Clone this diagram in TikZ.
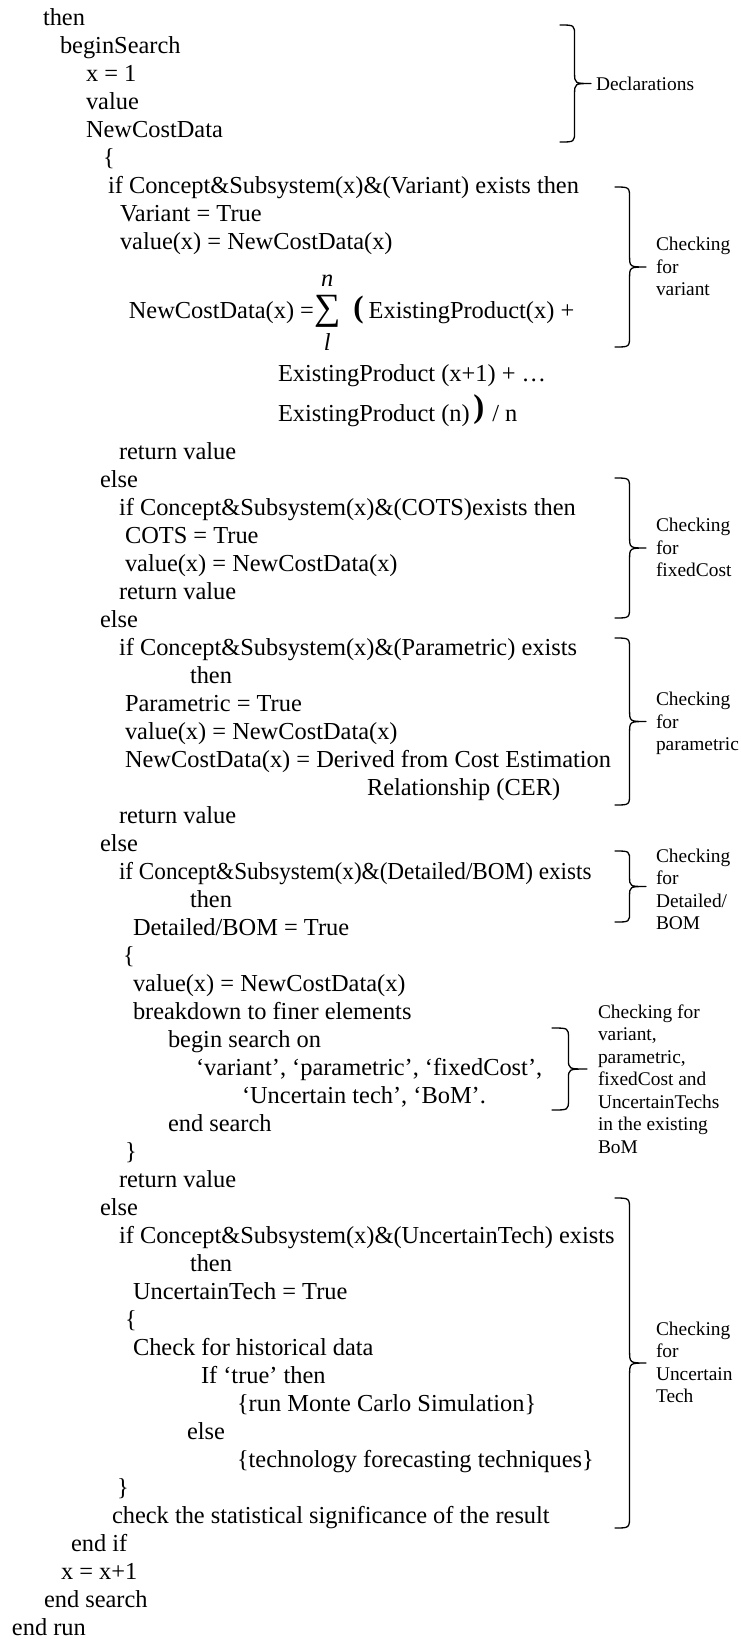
\documentclass[tikz,border=0pt]{standalone}
\usepackage{fontspec}
\setmainfont{Liberation Serif}
\begin{document}
\begin{tikzpicture}[x=1pt,y=-1pt,
  code/.style={anchor=base west, inner sep=0pt, outer sep=0pt, font=\fontsize{24.4}{28}\selectfont},
  note/.style={anchor=base west, inner sep=0pt, outer sep=0pt, font=\fontsize{19.4}{22.5}\selectfont},
  glyph/.style={anchor=center, inner sep=0pt, outer sep=0pt},
  bracepen/.style={line width=1.3pt, line cap=round, line join=round}]
\useasboundingbox (0,0) rectangle (740,1639);

% right brace: left x, top y, bottom y, width, curl size
\newcommand\codebrace[5]{%
  \coordinate (bt) at (#1,#2);
  \coordinate (bb) at (#1,#3);
  \coordinate (bm) at ({#1+#4},{(#2+#3)/2});
  \draw[bracepen] (bt) .. controls ({#1+0.47*#4},#2) .. ({#1+0.47*#4},{#2+#5})
    -- ({#1+0.47*#4},{(#2+#3)/2-#5})
    .. controls ({#1+0.47*#4},{(#2+#3)/2}) .. (bm)
    .. controls ({#1+0.47*#4},{(#2+#3)/2}) .. ({#1+0.47*#4},{(#2+#3)/2+#5})
    -- ({#1+0.47*#4},{#3-#5})
    .. controls ({#1+0.47*#4},#3) .. (bb);}

% ---- pseudo-code ----
\node[code] (c02) at (43,25) {then};
\node[code] (c03) at (60,53) {beginSearch};
\node[code] (c04) at (86,81) {x = 1};
\node[code] (c05) at (86,109) {value};
\node[code] (c06) at (86,137) {NewCostData};
\node[code] (c07) at (103,165) {\{};
\node[code] (c08) at (108,193) {if Concept\&Subsystem(x)\&(Variant) exists then};
\node[code] (c09) at (120,221) {Variant = True};
\node[code] (c10) at (120,249) {value(x) = NewCostData(x)};

% summation formula
\node[code, anchor=base east] (lhs) at (314,318) {NewCostData(x) =};
\node[glyph, anchor=west, font=\fontsize{37}{37}\selectfont] (sig) at (314,311.5) {∑};
\node[glyph, font=\fontsize{24.4}{28}\selectfont\itshape] (supn) at (sig.center |- 0,281) {n};
\node[glyph, font=\fontsize{24.4}{28}\selectfont\itshape] (subl) at (sig.center |- 0,342) {l};
\node[glyph, anchor=west, font=\fontsize{31}{31}\selectfont\bfseries] (lpar) at ([xshift=13pt]sig.east |- 0,310.5) {(};
\node[code] (t1) at ([xshift=5pt]lpar.east |- lhs.base) {ExistingProduct(x) +};
\node[code] (t2) at (278,381) {ExistingProduct (x+1) + …};
\node[code] (t3) at (278,421) {ExistingProduct (n)};
\path (t3.base east) ++(9,-11.5) node[glyph, font=\fontsize{33}{33}\selectfont\bfseries] (rpar) {)};
\node[code] (divn) at ([xshift=8pt]rpar.east |- t3.base) {/ n};

\node[code] (c16) at (119,459.5) {return value};
\node[code] (c17) at (100,487.5) {else};
\node[code] (c18) at (119,515.5) {if Concept\&Subsystem(x)\&(COTS)exists then};
\node[code] (c19) at (125,543.5) {COTS = True};
\node[code] (c20) at (125,571.5) {value(x) = NewCostData(x)};
\node[code] (c21) at (119,599.5) {return value};
\node[code] (c22) at (100,627.5) {else};
\node[code] (c23) at (119,655.5) {if Concept\&Subsystem(x)\&(Parametric) exists};
\node[code] (c24) at (190,683.5) {then};
\node[code] (c25) at (125,711.5) {Parametric = True};
\node[code] (c26) at (125,739.5) {value(x) = NewCostData(x)};
\node[code] (c27) at (125,767.5) {NewCostData(x) = Derived from Cost Estimation};
\node[code] (c28) at (367,795.5) {Relationship (CER)};
\node[code] (c29) at (119,823.5) {return value};
\node[code] (c30) at (100,851.5) {else};
\node[code] (c31) at (119,879.5) {\scalebox{0.95}[1]{if Concept\&Subsystem(x)\&(Detailed/BOM) exists}};
\node[code] (c32) at (190,907.5) {then};
\node[code] (c33) at (133,935.5) {Detailed/BOM = True};
\node[code] (c34) at (123,963.5) {\{};
\node[code] (c35) at (133,991.5) {value(x) = NewCostData(x)};
\node[code] (c36) at (133,1019.5) {breakdown to finer elements};
\node[code] (c37) at (168,1047.5) {begin search on};
\node[code] (c38) at (196,1075.5) {‘variant’, ‘parametric’, ‘fixedCost’,};
\node[code] (c39) at (242,1103.5) {‘Uncertain tech’, ‘BoM’.};
\node[code] (c40) at (168,1131.5) {end search};
\node[code] (c41) at (125,1159.5) {\}};
\node[code] (c42) at (119,1187.5) {return value};
\node[code] (c43) at (100,1215.5) {else};
\node[code] (c44) at (119,1243.5) {if Concept\&Subsystem(x)\&(UncertainTech) exists};
\node[code] (c45) at (190,1271.5) {then};
\node[code] (c46) at (133,1299.5) {UncertainTech = True};
\node[code] (c47) at (125,1327.5) {\{};
\node[code] (c48) at (133,1355.5) {Check for historical data};
\node[code] (c49) at (201,1383.5) {If ‘true’ then};
\node[code] (c50) at (237,1411.5) {\{run Monte Carlo Simulation\}};
\node[code] (c51) at (187,1439.5) {else};
\node[code] (c52) at (237,1467.5) {\{technology forecasting techniques\}};
\node[code] (c53) at (117,1495.5) {\}};
\node[code] (c54) at (112,1523.5) {check the statistical significance of the result};
\node[code] (c55) at (71,1551.5) {end if};
\node[code] (c56) at (61,1579.5) {x = x+1};
\node[code] (c57) at (44,1607.5) {end search};
\node[code] (c58) at (12,1635.5) {end run};

% ---- braces and their notes ----
\codebrace{560}{25}{142}{31}{11}
\node[note] (nDecl) at (596,90) {Declarations};

\codebrace{615}{187}{347}{31}{12}
\node[note] (nV1) at (656,250.5) {Checking};
\node[note] (nV2) at (656,273) {for};
\node[note] (nV3) at (656,295.5) {variant};

\codebrace{615}{478}{618}{31}{12}
\node[note] (nF1) at (656,531.5) {Checking};
\node[note] (nF2) at (656,554) {for};
\node[note] (nF3) at (656,576.5) {fixedCost};

\codebrace{615}{638}{805}{31}{12}
\node[note] (nP1) at (656,705.5) {Checking};
\node[note] (nP2) at (656,728) {for};
\node[note] (nP3) at (656,750.5) {parametric};

\codebrace{615}{851}{922}{31}{10}
\node[note] (nD1) at (656,862) {Checking};
\node[note] (nD2) at (656,884.5) {for};
\node[note] (nD3) at (656,907) {Detailed/};
\node[note] (nD4) at (656,929.5) {BOM};

\codebrace{552}{1028}{1110}{35}{10}
\node[note] (nB1) at (598,1018) {Checking for};
\node[note] (nB2) at (598,1040.5) {variant,};
\node[note] (nB3) at (598,1063) {parametric,};
\node[note] (nB4) at (598,1085.5) {fixedCost and};
\node[note] (nB5) at (598,1108) {UncertainTechs};
\node[note] (nB6) at (598,1130.5) {in the existing};
\node[note] (nB7) at (598,1153) {BoM};

\codebrace{615}{1198}{1528}{31}{13}
\node[note] (nU1) at (656,1335) {Checking};
\node[note] (nU2) at (656,1357.5) {for};
\node[note] (nU3) at (656,1380) {Uncertain};
\node[note] (nU4) at (656,1402.5) {Tech};
\end{tikzpicture}
\end{document}
